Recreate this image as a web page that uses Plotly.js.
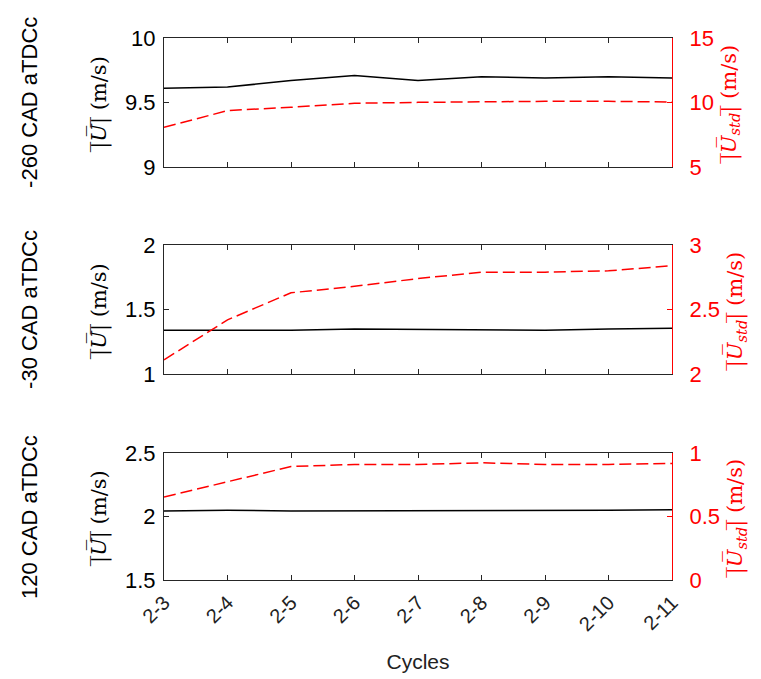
<!DOCTYPE html>
<html>
<head>
<meta charset="utf-8">
<script src="https://cdn.plot.ly/plotly-3.0.1.min.js"></script>
<style>html,body{margin:0;padding:0;background:#fff;}#chart{width:761px;height:679px;}</style>
</head>
<body>
<div id="chart"></div>
<script>
// Categories
const cycles = ["2-3","2-4","2-5","2-6","2-7","2-8","2-9","2-10","2-11"];
// Panel labels
const panelLabels = ["-260 CAD aTDCc", "-30 CAD aTDCc", "120 CAD aTDCc"];
// Mean velocity magnitude (left axis, black solid)
const uMean_m260 = [9.61, 9.62, 9.67, 9.71, 9.67, 9.70, 9.69, 9.70, 9.69];
const uMean_m30  = [1.34, 1.34, 1.34, 1.35, 1.345, 1.34, 1.34, 1.35, 1.355];
const uMean_120  = [2.045, 2.05, 2.045, 2.045, 2.047, 2.047, 2.047, 2.05, 2.053];
// Std velocity magnitude (right axis, red dashed)
const uStd_m260 = [8.07, 9.37, 9.63, 9.94, 10.01, 10.07, 10.09, 10.09, 10.04];
const uStd_m30  = [2.11, 2.42, 2.63, 2.68, 2.74, 2.79, 2.79, 2.80, 2.84];
const uStd_120  = [0.654, 0.775, 0.895, 0.911, 0.911, 0.924, 0.911, 0.911, 0.919];
// Axis ranges / ticks
const leftRanges  = [[9, 10], [1, 2], [1.5, 2.5]];
const leftTicks   = [[9, 9.5, 10], [1, 1.5, 2], [1.5, 2, 2.5]];
const rightRanges = [[5, 15], [2, 3], [0, 1]];
const rightTicks  = [[5, 10, 15], [2, 2.5, 3], [0, 0.5, 1]];

const meanSets = [uMean_m260, uMean_m30, uMean_120];
const stdSets  = [uStd_m260, uStd_m30, uStd_120];
const domains = [[0.762, 1], [0.380, 0.618], [0, 0.234]];

const boxColor = '#262626';
const red = '#ff0000';
const sans = 'Liberation Sans, Arial, sans-serif';
const tickFont = {family: sans, size: 22};
const leftTitle = '|\u0305<i>U\u0305</i>|\u0305 (m/s)';
const rightTitle = '|\u0305<i>U\u0305<sub>std</sub></i>|\u0305 (m/s)';

const data = [];
const layout = {
  width: 761, height: 679,
  margin: {l: 164, r: 89, t: 38, b: 99},
  paper_bgcolor: '#fff', plot_bgcolor: '#fff',
  showlegend: false,
  annotations: []
};

for (let i = 0; i < 3; i++) {
  const xa = 'x' + (i + 1);
  const yl = 'y' + (2 * i + 1);
  const yr = 'y' + (2 * i + 2);
  data.push({x: cycles, y: meanSets[i], xaxis: xa, yaxis: yl, type: 'scatter', mode: 'lines',
    line: {color: '#000', width: 1.5}});
  data.push({x: cycles, y: stdSets[i], xaxis: xa, yaxis: yr, type: 'scatter', mode: 'lines',
    line: {color: red, width: 1.5, dash: '12px,5px'}});
  const xk = 'xaxis' + (i + 1);
  const ylk = 'yaxis' + (2 * i + 1);
  const yrk = 'yaxis' + (2 * i + 2);
  layout[xk] = {
    domain: [0, 1], anchor: yl, type: 'category', range: [0, 8],
    showline: true, linecolor: boxColor, linewidth: 1, mirror: 'ticks',
    ticks: 'inside', ticklen: 5, tickcolor: boxColor,
    showgrid: false, zeroline: false,
    showticklabels: i === 2, tickangle: -45,
    tickfont: {family: sans, size: 20, color: '#222'},
    ticklabelstandoff: 2,
    fixedrange: true
  };
  if (i === 2) {
    layout[xk].title = {text: 'Cycles', font: {family: sans, size: 21, color: '#222'}, standoff: 20};
  }
  layout[ylk] = {
    domain: domains[i], anchor: xa, range: leftRanges[i], tickvals: leftTicks[i],
    showline: true, linecolor: boxColor, linewidth: 1,
    ticks: 'inside', ticklen: 5, tickcolor: boxColor,
    showgrid: false, zeroline: false, tickfont: Object.assign({color: '#000'}, tickFont),
    ticklabelstandoff: 3,
    title: {text: leftTitle, font: {family: 'DejaVu Serif, serif', size: 21, color: '#000'}, standoff: 12}
  };
  layout[yrk] = {
    overlaying: yl, side: 'right', anchor: xa, range: rightRanges[i], tickvals: rightTicks[i],
    showline: true, linecolor: red, linewidth: 1,
    ticks: 'inside', ticklen: 5, tickcolor: red,
    showgrid: false, zeroline: false, tickfont: Object.assign({color: red}, tickFont),
    ticklabelstandoff: 12,
    title: {text: rightTitle, font: {family: 'DejaVu Serif, serif', size: 21, color: red}, standoff: 8}
  };
  layout.annotations.push({
    text: panelLabels[i], xref: 'paper', yref: 'paper',
    x: -0.265, y: (domains[i][0] + domains[i][1]) / 2, xanchor: 'center', yanchor: 'middle',
    textangle: -90, showarrow: false,
    font: {family: sans, size: 22, color: '#000'}
  });
}

Plotly.newPlot('chart', data, layout, {displayModeBar: false, staticPlot: true});
</script>
</body>
</html>
